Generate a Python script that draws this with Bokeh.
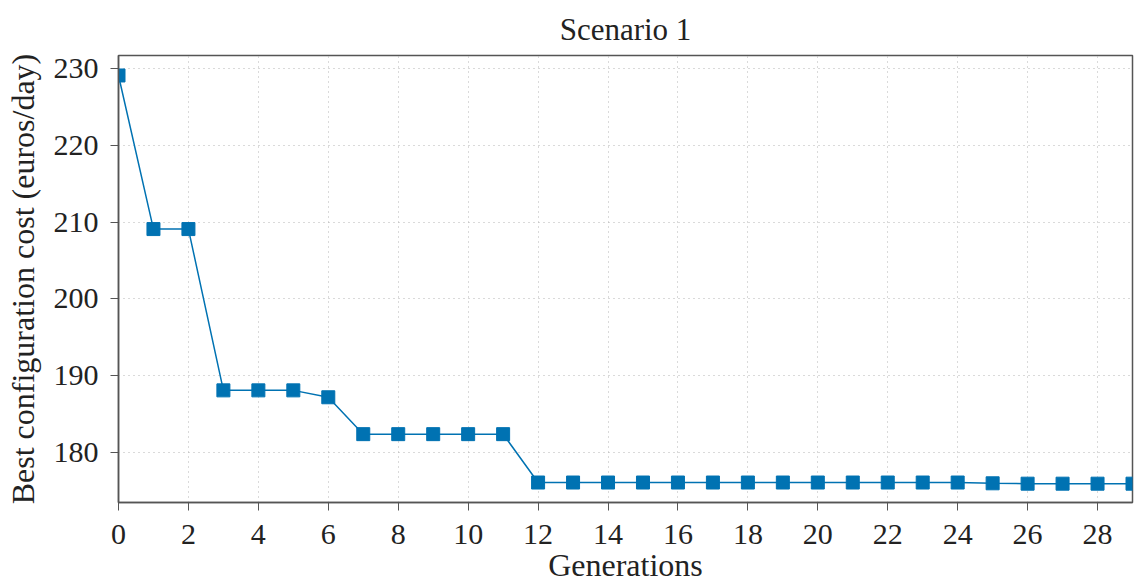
from bokeh.plotting import figure
from bokeh.embed import file_html
from bokeh.resources import INLINE
from bokeh.models import Range1d, FixedTicker

generations = list(range(30))
cost = [229.1, 209.1, 209.1, 188.1, 188.1, 188.1, 187.2, 182.4, 182.4, 182.4,
        182.4, 182.4, 176.1, 176.1, 176.1, 176.1, 176.1, 176.1, 176.1, 176.1,
        176.1, 176.1, 176.1, 176.1, 176.1, 176.0, 175.95, 175.95, 175.95, 175.95]
x_ticks = list(range(0, 29, 2))
y_ticks = [180, 190, 200, 210, 220, 230]

FONT = "Liberation Serif"
COLOR = "#0072B2"

p = figure(width=1138, height=585, output_backend="svg", toolbar_location=None,
           x_range=Range1d(0, 29), y_range=Range1d(173.5, 231.7),
           title="Scenario 1")
p.frame_width = 1014
p.frame_height = 447
p.min_border_left = 118
p.min_border_right = 6
p.min_border_top = 55
p.min_border_bottom = 83

p.title.text_font = FONT
p.title.text_font_size = "31px"
p.title.text_font_style = "normal"
p.title.align = "center"
p.title.text_color = "#222222"
p.title.standoff = 18

p.line(generations, cost, line_color=COLOR, line_width=1.5)
p.scatter(generations, cost, marker="square", size=13, fill_color=COLOR,
          line_color=COLOR)

p.xaxis.ticker = FixedTicker(ticks=x_ticks)
p.yaxis.ticker = FixedTicker(ticks=y_ticks)
p.xaxis.axis_label = "Generations"
p.yaxis.axis_label = "Best configuration cost (euros/day)"
for ax in (p.xaxis[0], p.yaxis[0]):
    ax.axis_label_text_font = FONT
    ax.axis_label_text_font_style = "normal"
    ax.axis_label_text_font_size = "32px"
    ax.axis_label_text_color = "#222222"
    ax.major_label_text_font = FONT
    ax.major_label_text_font_size = "30px"
    ax.major_label_text_color = "#222222"
    ax.axis_line_color = "#555555"
    ax.axis_line_width = 1.5
    ax.major_tick_line_color = "#555555"
    ax.major_tick_out = 8
    ax.major_tick_in = 0
    ax.minor_tick_line_color = None
p.xaxis.axis_label_standoff = 0
p.xaxis.major_label_standoff = 14
p.yaxis.axis_label_standoff = 10
p.yaxis.major_label_standoff = 12

p.outline_line_color = "#555555"
p.outline_line_width = 1.5
p.xgrid.grid_line_color = "#b4b4b4"
p.ygrid.grid_line_color = "#b4b4b4"
p.xgrid.grid_line_dash = "1 4"
p.ygrid.grid_line_dash = "1 4"
p.background_fill_color = "white"
p.border_fill_color = "white"

open("out.html", "w").write(file_html(p, INLINE))
